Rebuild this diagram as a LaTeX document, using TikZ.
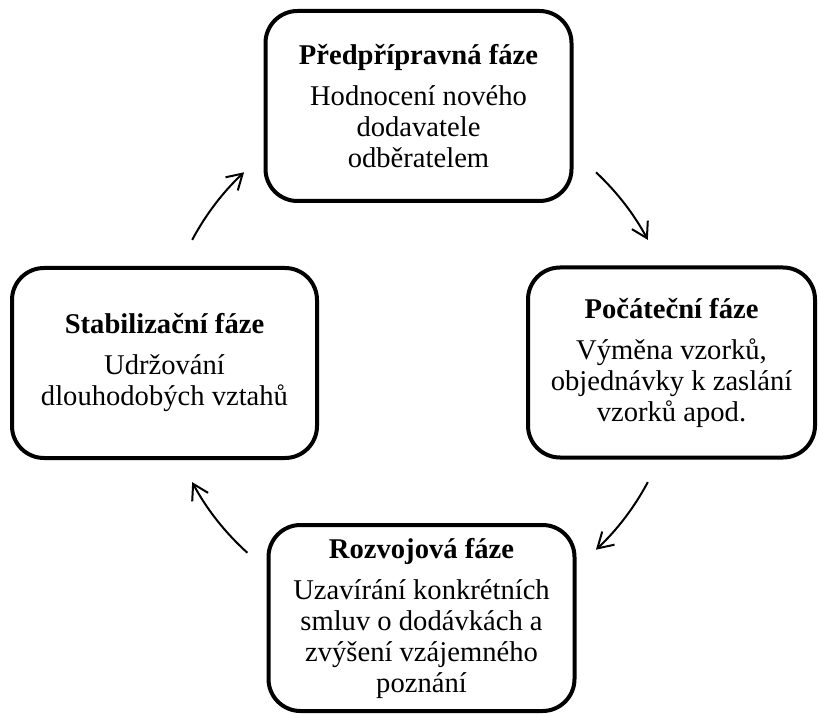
\documentclass[tikz,border=0pt]{standalone}
\usepackage{fontspec}
\setmainfont{Liberation Serif}
\usetikzlibrary{arrows.meta}

\tikzset{
  phase/.style={draw, line width=4pt, rounded corners=32pt, align=center,
    inner sep=2pt, minimum width=306pt, minimum height=190pt,
    font=\fontsize{28.6}{31}\selectfont},
  cycarrow/.style={line width=2pt, -{Straight Barb[length=15pt,width=18pt,line width=2pt]}}
}

\begin{document}
\begin{tikzpicture}[x=1pt, y=1pt]

 \useasboundingbox (0,0) rectangle (819,713);

 %%%%%%%%%% Phases %%%%%%%%%%
 \node[phase] (pred) at (418.5,607) {\textbf{Předpřípravná fáze}\\[10pt]Hodnocení nového\\dodavatele\\odběratelem};
 \node[phase, minimum width=287pt] (poc) at (671.5,350.5) {\textbf{Počáteční fáze}\\[10pt]Výměna vzorků,\\objednávky k zaslání\\vzorků apod.};
 \node[phase, minimum width=305pt] (stab) at (164.5,350) {\textbf{Stabilizační fáze}\\[10pt]Udržování\\dlouhodobých vztahů};
 \node[phase, minimum height=186pt] (rozv) at (421.5,95) {\textbf{Rozvojová fáze}\\[10pt]Uzavírání konkrétních\\smluv o dodávkách a\\zvýšení vzájemného\\poznání};

 %%%%%%%%%% Cycle %%%%%%%%%%
 \coordinate (hub) at (420,352);
 \coordinate (a1) at ([shift={(47:258)}]hub);
 \coordinate (a2) at ([shift={(-28:258)}]hub);
 \coordinate (a3) at ([shift={(-132:258)}]hub);
 \coordinate (a4) at ([shift={(152:258)}]hub);

 \draw[cycarrow] (a1) arc[start angle=47, end angle=28, radius=258];
 \draw[cycarrow] (a2) arc[start angle=-28, end angle=-47, radius=258];
 \draw[cycarrow] (a3) arc[start angle=-132, end angle=-152, radius=258];
 \draw[cycarrow] (a4) arc[start angle=152, end angle=133, radius=258];

\end{tikzpicture}
\end{document}
